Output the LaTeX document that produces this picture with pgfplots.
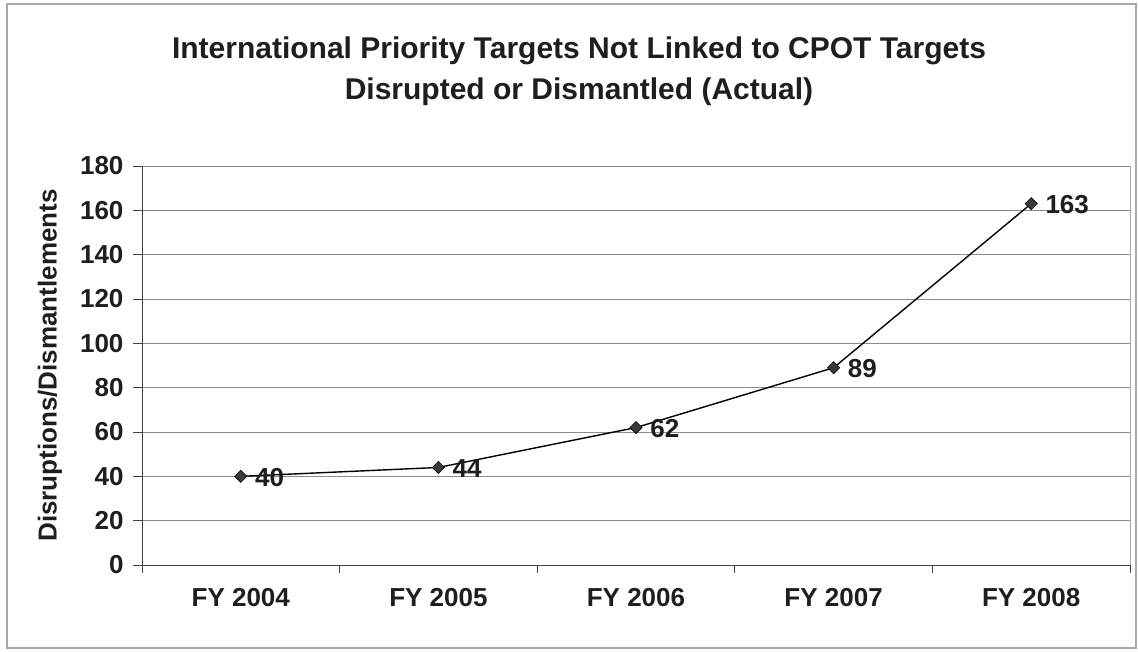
\documentclass[border=0pt]{standalone}
\usepackage{fontspec}
\setmainfont{Liberation Sans}
\usepackage{pgfplots}
\pgfplotsset{compat=1.18}

\definecolor{inkdark}{HTML}{1E1E1E}
\definecolor{gridgray}{HTML}{8C8C8C}
\definecolor{framegray}{HTML}{A8A8A8}
\definecolor{markfill}{HTML}{3A3A3A}

\newcommand{\chartfont}{\fontsize{26}{30}\selectfont\bfseries}

\begin{document}
\begin{tikzpicture}[x=1pt,y=1pt]
  % page size and outer chart frame
  \path (0,0) rectangle (1138,651);
  \draw[framegray, line width=1.2pt] (7,3) rectangle (1136,647);

  % two-line chart title
  \node[anchor=base, font=\fontsize{30}{34}\selectfont\bfseries, text=inkdark]
    at (579,592) {International Priority Targets Not Linked to CPOT Targets};
  \node[anchor=base, font=\fontsize{30}{34}\selectfont\bfseries, text=inkdark]
    at (579,551) {Disrupted or Dismantled (Actual)};

  \begin{axis}[
    at={(142pt,86pt)}, anchor=south west,
    scale only axis, width=988pt, height=399pt,
    xmin=-0.5, xmax=4.5, ymin=0, ymax=180,
    axis x line*=bottom, axis y line*=left,
    axis line style={draw=inkdark!85, line width=1pt, -},
    xtick={0,1,2,3,4},
    xticklabels={FY 2004, FY 2005, FY 2006, FY 2007, FY 2008},
    major x tick style={draw=none},
    minor xtick={-0.5,0.5,1.5,2.5,3.5,4.5},
    minor x tick style={draw=inkdark!85, line width=0.9pt},
    minor tick length=8pt,
    ytick={0,20,...,180},
    major tick length=9pt,
    y tick style={draw=inkdark!85, line width=0.9pt},
    tick align=outside,
    ymajorgrids,
    grid style={draw=gridgray, line width=0.8pt},
    /pgf/number format/assume math mode=true,
    ticklabel style={font=\chartfont, text=inkdark},
    xticklabel style={yshift=-11pt},
    yticklabel style={xshift=-6pt},
    ylabel={Disruptions/Dismantlements},
    every axis y label/.style={at={(rel axis cs:0,0.5)}, xshift=-92pt,
      rotate=90, anchor=center, font=\chartfont, text=inkdark},
    clip=false,
  ]
    \addplot[black, line width=1.4pt,
      mark=square*, mark size=4.3pt,
      mark options={rotate=45, fill=markfill, draw=black, line width=0.6pt},
      nodes near coords,
      every node near coord/.append style={anchor=west, xshift=14pt, yshift=-1pt,
        font=\chartfont, text=inkdark, inner sep=0pt},
      nodes near coords style={/pgf/number format/assume math mode=true},
    ] coordinates {
      (0,40) (1,44) (2,62) (3,89) (4,163)
    };
    % right edge of the plot area
    \draw[framegray, line width=1pt] (rel axis cs:1,0) -- (rel axis cs:1,1);
  \end{axis}
\end{tikzpicture}
\end{document}
